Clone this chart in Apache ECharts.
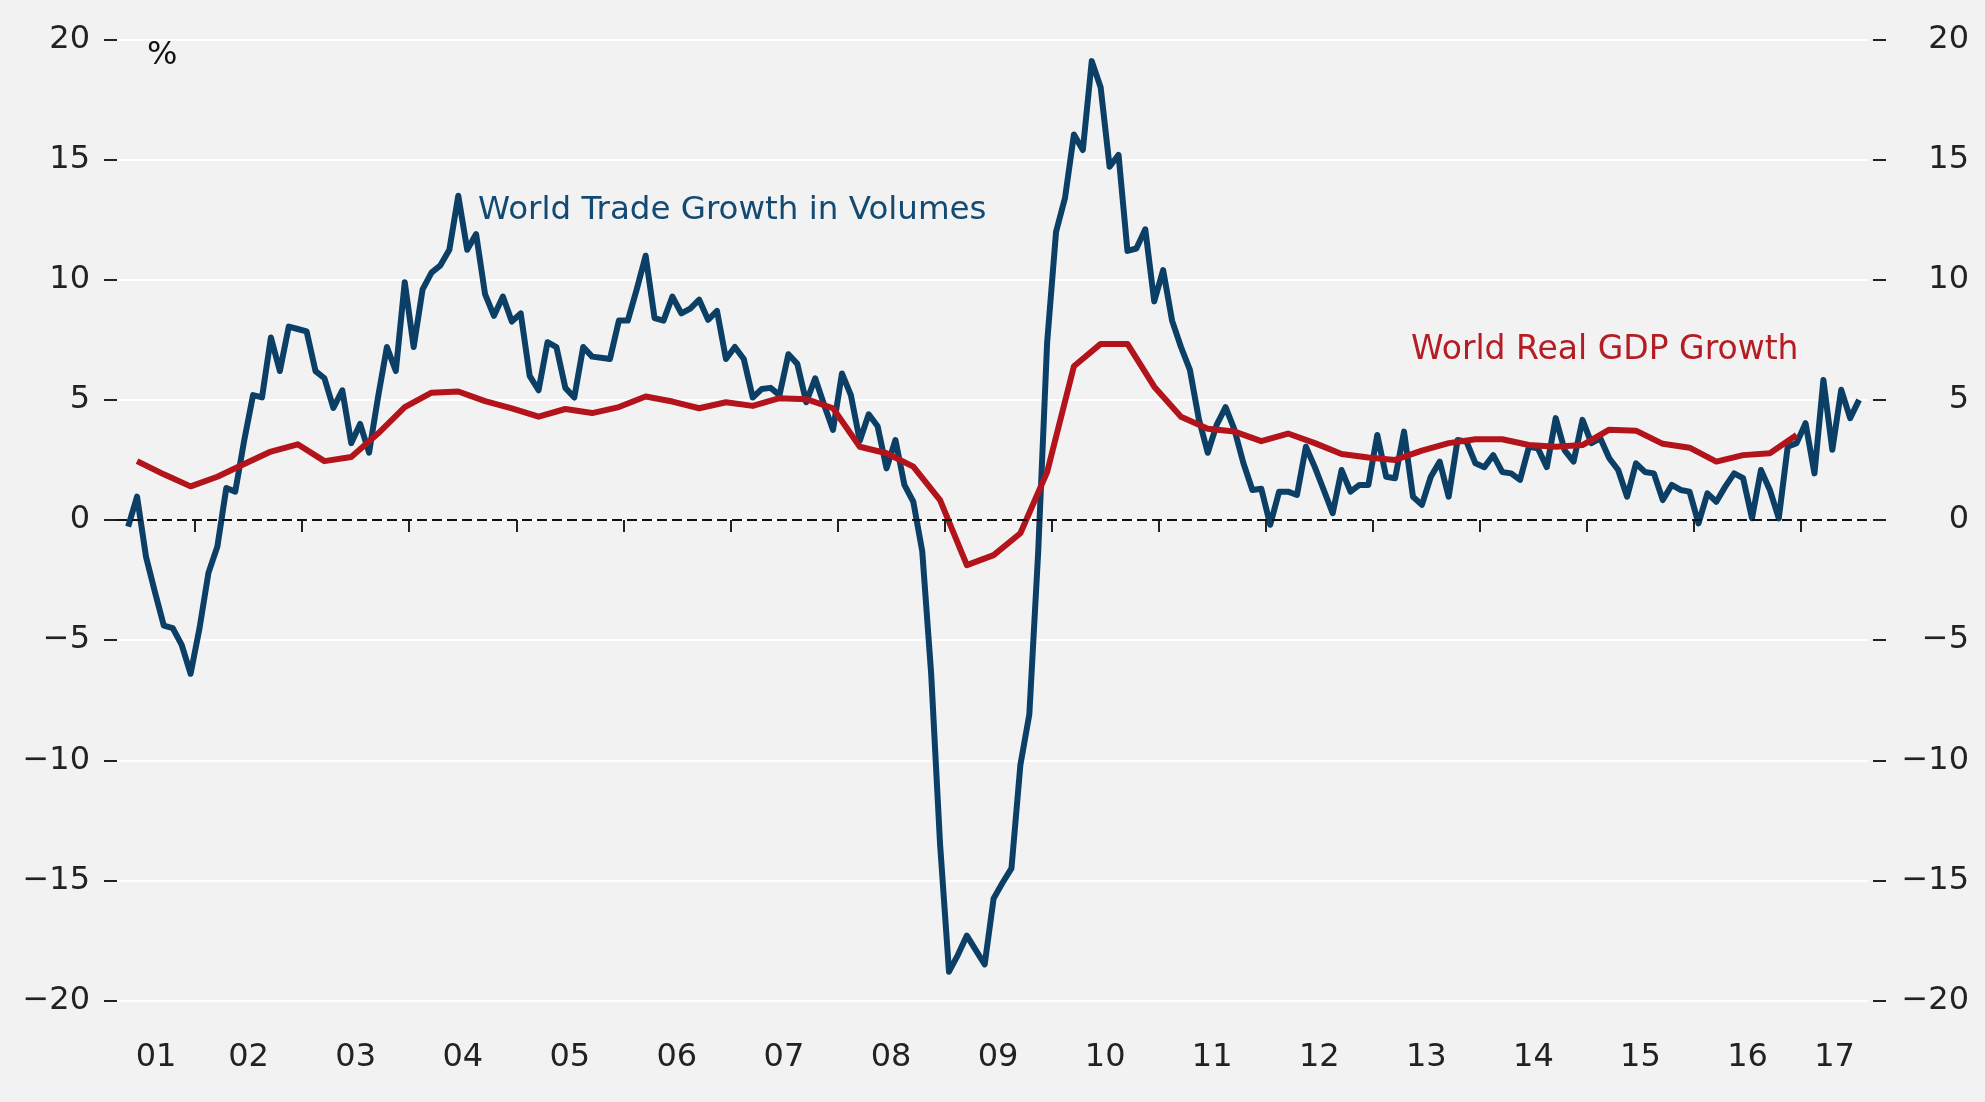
<!DOCTYPE html>
<html>
<head>
	<meta charset="utf-8">
	<title>World Trade vs World GDP</title>
	<script src="https://cdn.jsdelivr.net/npm/echarts@6/dist/echarts.min.js"></script>
	<style>
		html, body { margin: 0; padding: 0; background: #f2f2f2; }
	</style>
</head>
<body>
	<div id="main" style="width: 1985px;height: 1102px;"></div>
</body>
<script type="text/javascript">
	// world trade growth in volumes, % y/y, monthly from May 2001 to Jul 2017
	var tradeStart = 4; // months after Jan 2001
	var tradeGrowth = [
		-0.28, 0.97, -1.53, -3.0, -4.4, -4.5, -5.2, -6.4, -4.5, -2.2,
		-1.1, 1.33, 1.18, 3.3, 5.2, 5.1, 7.6, 6.2, 8.05, 7.95,
		7.85, 6.2, 5.9, 4.67, 5.4, 3.2, 4.0, 2.8, 5.1, 7.2,
		6.2, 9.9, 7.2, 9.6, 10.3, 10.6, 11.25, 13.5, 11.25, 11.9,
		9.4, 8.5, 9.3, 8.26, 8.6, 6.0, 5.4, 7.4, 7.2, 5.5,
		5.1, 7.2, 6.8, 6.75, 6.7, 8.3, 8.3, 9.6, 11.0, 8.4,
		8.3, 9.3, 8.6, 8.8, 9.17, 8.33, 8.7, 6.7, 7.2, 6.7,
		5.1, 5.45, 5.5, 5.2, 6.9, 6.5, 4.9, 5.9, 4.8, 3.75,
		6.1, 5.2, 3.3, 4.4, 3.9, 2.15, 3.33, 1.46, 0.76, -1.3,
		-6.4, -13.5, -18.8, -18.1, -17.3, -17.9, -18.5, -15.75, -15.1, -14.5,
		-10.2, -8.1, -1.3, 7.4, 12.0, 13.4, 16.05, 15.4, 19.1, 18.0,
		14.7, 15.2, 11.2, 11.3, 12.1, 9.1, 10.4, 8.3, 7.2, 6.25,
		4.2, 2.8, 3.96, 4.7, 3.75, 2.36, 1.25, 1.3, -0.2, 1.18,
		1.18, 1.04, 3.05, 2.2, 1.25, 0.28, 2.08, 1.18, 1.46, 1.46,
		3.54, 1.8, 1.74, 3.68, 0.97, 0.63, 1.8, 2.43, 0.97, 3.33,
		3.26, 2.36, 2.2, 2.7, 2.0, 1.94, 1.67, 3.05, 2.99, 2.2,
		4.24, 2.9, 2.43, 4.17, 3.2, 3.4, 2.57, 2.08, 0.97, 2.36,
		2.0, 1.94, 0.83, 1.46, 1.25, 1.18, -0.14, 1.11, 0.76, 1.39,
		1.94, 1.74, 0.07, 2.08, 1.25, 0.07, 3.05, 3.2, 4.03, 1.94,
		5.83, 2.92, 5.42, 4.24, 5.0
	];
	// world real GDP growth, % y/y, quarterly from Q2 2001 to Q4 2016
	var gdpStart = 1; // quarters after Q1 2001
	var gdpGrowth = [
		2.45, 1.9, 1.4, 1.8, 2.33, 2.85, 3.15, 2.45, 2.62, 3.6,
		4.7, 5.3, 5.35, 4.95, 4.65, 4.3, 4.62, 4.45, 4.7, 5.14,
		4.93, 4.65, 4.9, 4.75, 5.07, 5.03, 4.65, 3.05, 2.78, 2.22,
		0.83, -1.88, -1.46, -0.55, 2.0, 6.4, 7.33, 7.33, 5.55, 4.3,
		3.8, 3.68, 3.28, 3.6, 3.2, 2.75, 2.6, 2.5, 2.89, 3.2,
		3.36, 3.36, 3.12, 3.05, 3.12, 3.76, 3.72, 3.17, 3.01, 2.43,
		2.7, 2.78, 3.54
	];
	var years = ['01', '02', '03', '04', '05', '06', '07', '08', '09', '10', '11', '12', '13', '14', '15', '16', '17'];

	// x axis runs in months since Jan 2001, points sit mid-month
	var xMin = 3.25, xMax = 199.5;
	var tradeData = tradeGrowth.map(function (v, i) {
		return [tradeStart + i + 0.5, v];
	});
	var gdpData = gdpGrowth.map(function (v, i) {
		return [(gdpStart + i) * 3 + 2.5, v];
	});
	var yearTicks = [];
	var yearLabelPos = [];
	for (var k = 0; k < years.length; k++) {
		var a = Math.max(k * 12, xMin), b = Math.min((k + 1) * 12, xMax);
		if (k > 0) yearTicks.push(k * 12);
		yearLabelPos.push((a + b) / 2);
	}

	var font = 'DejaVu Sans';
	var fmtY = function (v) {
		return v < 0 ? '\u2212' + Math.abs(v) : String(v);
	};

	var myChart = echarts.init(document.getElementById('main'));
	var option = {
		backgroundColor: '#f2f2f2',
		animation: false,
		grid: {
			left: 117,
			right: 117,
			top: 39.5,
			bottom: 101.5
		},
		xAxis: {
			type: 'value',
			min: xMin,
			max: xMax,
			offset: 23,
			axisLine: {show: false},
			splitLine: {show: false},
			axisTick: {
				show: true,
				length: 12,
				customValues: yearTicks,
				lineStyle: {color: '#222', width: 2}
			},
			axisLabel: {
				customValues: yearLabelPos,
				margin: 34,
				verticalAlign: 'middle',
				fontFamily: font,
				fontSize: 32,
				color: '#222',
				formatter: function (v) {
					return years[Math.floor(v / 12)];
				}
			}
		},
		yAxis: [{
			type: 'value',
			position: 'left',
			min: -20,
			max: 20,
			interval: 5,
			axisLine: {show: false},
			axisTick: {show: true, length: 13, lineStyle: {color: '#222', width: 2}},
			axisLabel: {
				margin: 27,
				fontFamily: font,
				fontSize: 32,
				color: '#222',
				formatter: fmtY
			},
			splitLine: {show: true, lineStyle: {color: '#ffffff', width: 2}}
		}, {
			type: 'value',
			position: 'right',
			offset: 5,
			min: -20,
			max: 20,
			interval: 5,
			axisLine: {show: false},
			axisTick: {show: true, length: 13, lineStyle: {color: '#222', width: 2}},
			axisLabel: {
				margin: 96,
				align: 'right',
				fontFamily: font,
				fontSize: 32,
				color: '#222',
				formatter: fmtY
			},
			splitLine: {show: false}
		}],
		graphic: [{
			type: 'text',
			style: {x: 147, y: 56, text: '%', font: '32px "DejaVu Sans"', fill: '#111', textVerticalAlign: 'middle'}
		}, {
			type: 'text',
			style: {x: 478, y: 211, text: 'World Trade Growth in Volumes', font: '32.5px "DejaVu Sans"', fill: '#124a73', textVerticalAlign: 'middle'}
		}, {
			type: 'text',
			style: {x: 1411, y: 350, text: 'World Real GDP Growth', font: '33px "DejaVu Sans"', fill: '#b51d24', textVerticalAlign: 'middle'}
		}],
		series: [{
			name: 'World Trade Growth in Volumes',
			type: 'line',
			data: tradeData,
			showSymbol: false,
			symbol: 'none',
			z: 3,
			lineStyle: {color: '#0b3f66', width: 6, join: 'round'},
			markLine: {
				silent: true,
				symbol: 'none',
				label: {show: false},
				lineStyle: {color: '#111', width: 2, type: [10, 5]},
				data: [{yAxis: 0}]
			}
		}, {
			name: 'World Real GDP Growth',
			type: 'line',
			data: gdpData,
			showSymbol: false,
			symbol: 'none',
			z: 4,
			lineStyle: {color: '#b3141c', width: 6, join: 'round'}
		}]
	};
	myChart.setOption(option);
</script>
</html>
